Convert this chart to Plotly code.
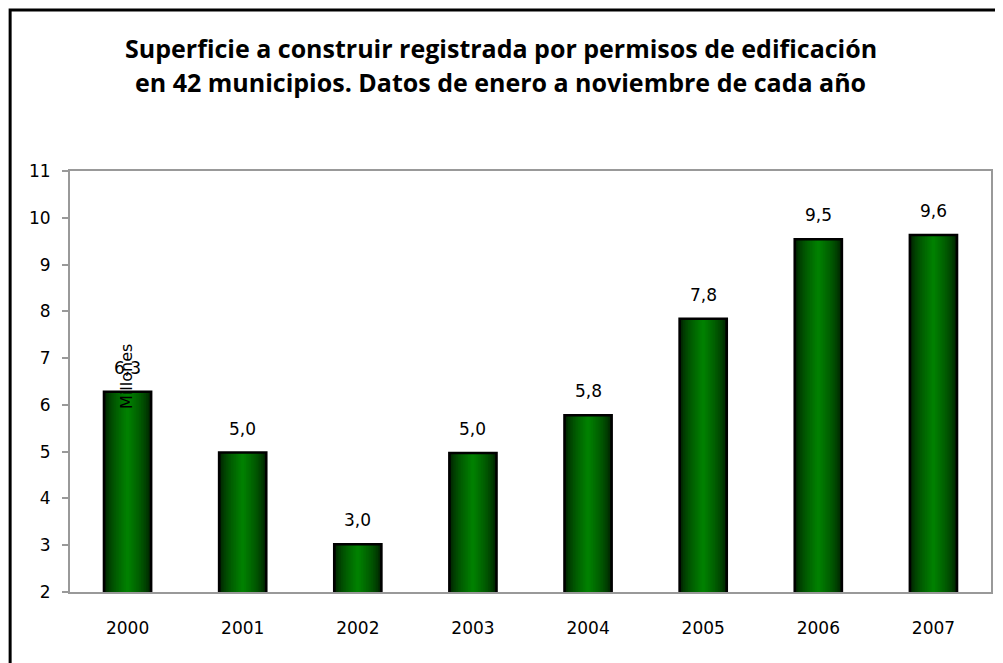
import plotly.graph_objects as go

# data (millions of m2, Jan-Nov of each year)
years = ["2000", "2001", "2002", "2003", "2004", "2005", "2006", "2007"]
surface = [6.28, 4.98, 3.02, 4.97, 5.78, 7.84, 9.54, 9.63]
y_ticks = list(range(2, 12))

title_lines = [
    "Superficie a construir registrada por permisos de edificación",
    "en 42 municipios. Datos de enero a noviembre de cada año",
]

# the page body adds an 8px margin, so the figure is drawn 8px smaller
OFF = 8
W, H = 1003 - OFF, 663 - OFF
L, R, T, B = 70 - OFF, 10, 171 - OFF, 71
pw, ph = W - L - R, H - T - B


# helpers: page pixel -> paper coordinates
def px_x(x):
    return (x - OFF - L) / pw


def px_y(y):
    return (H - B - (y - OFF)) / ph


fig = go.Figure()

# fake horizontal gradient: nested overlaid bars, dark outside -> green centre
bar_w = 0.41
n_layers = 14
for k in range(n_layers):
    f = k / (n_layers - 1)
    g = int(25 + (128 - 25) * (f ** 0.6))
    fig.add_trace(
        go.Bar(
            x=years,
            y=surface,
            width=bar_w * (1 - 0.93 * f),
            marker=dict(color=f"rgb(0,{g},0)", line=dict(width=0)),
            hoverinfo="skip" if k else None,
            showlegend=False,
        )
    )
# black outline on top
fig.add_trace(
    go.Bar(
        x=years,
        y=surface,
        width=bar_w,
        marker=dict(color="rgba(0,0,0,0)", line=dict(color="black", width=2.5)),
        hoverinfo="skip",
        showlegend=False,
    )
)

# value labels (category axis -> position by index)
for i, v in enumerate(surface):
    fig.add_annotation(
        x=i, y=v, yshift=24, yanchor="middle", showarrow=False,
        text=f"{v:.1f}".replace(".", ","),
        font=dict(family="DejaVu Sans", size=17, color="black"),
    )

# misplaced axis title, as in the reference
fig.add_annotation(
    xref="paper", yref="paper", x=px_x(126), y=px_y(376),
    text="Millones", textangle=-90, showarrow=False,
    xanchor="center", yanchor="middle",
    font=dict(family="DejaVu Sans", size=16, color="black"),
)

# title, two lines
for i, line in enumerate(title_lines):
    fig.add_annotation(
        xref="paper", yref="paper", x=px_x(501.5), y=px_y(48 + 34 * i),
        text=f"<b>{line}</b>", showarrow=False,
        xanchor="center", yanchor="middle",
        font=dict(family="Open Sans", size=25, color="black"),
    )

# outer chart frame (only left and top edges fall inside the picture)
fig.add_shape(
    type="rect", xref="paper", yref="paper",
    x0=px_x(10), x1=px_x(1030), y0=px_y(10), y1=px_y(690),
    line=dict(color="black", width=3), layer="above",
)

fig.update_layout(
    width=W, height=H,
    margin=dict(l=L, r=R, t=T, b=B),
    paper_bgcolor="white", plot_bgcolor="white",
    barmode="overlay",
    font=dict(family="DejaVu Sans", size=17, color="black"),
    xaxis=dict(
        type="category", range=[-0.5, len(years) - 0.5],
        showline=True, linecolor="#999999", linewidth=2, mirror=True,
        ticks="", showgrid=False, ticklabelstandoff=20,
        tickfont=dict(size=17),
    ),
    yaxis=dict(
        range=[2, 11], tickvals=y_ticks, showgrid=False,
        showline=True, linecolor="#999999", linewidth=2, mirror=True,
        ticks="outside", ticklen=6, tickcolor="#999999", tickwidth=1.5,
        ticklabelstandoff=8, tickfont=dict(size=17),
    ),
)

fig.write_html("out.html")
